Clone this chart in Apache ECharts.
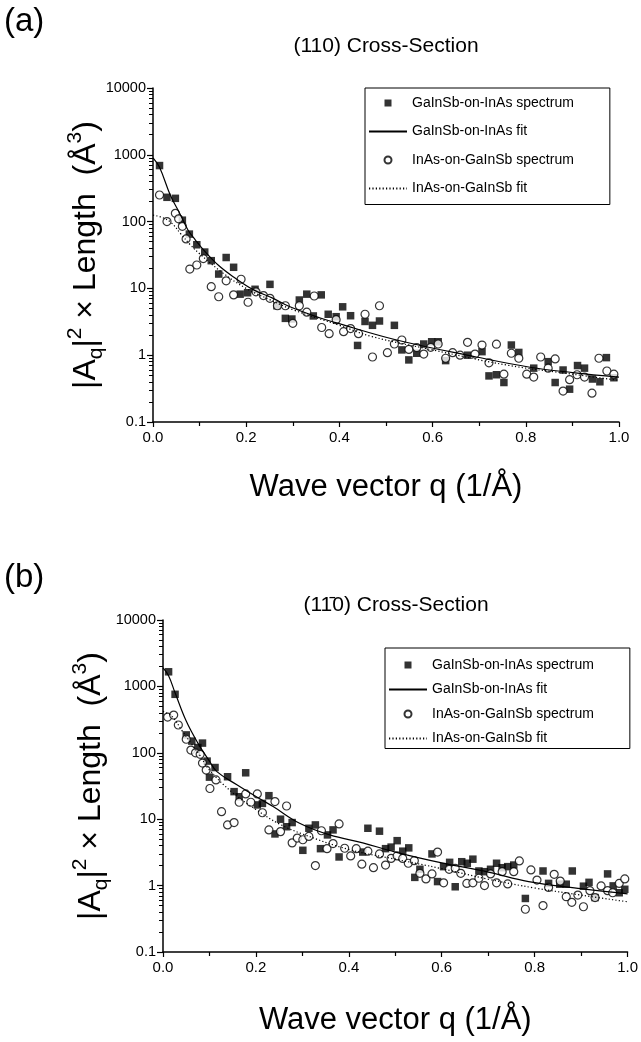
<!DOCTYPE html>
<html>
<head>
<meta charset="utf-8">
<script src="https://cdn.jsdelivr.net/npm/echarts@6/dist/echarts.min.js"></script>
<style>
html, body { margin: 0; padding: 0; background: #fff; }
#chart { width: 641px; height: 1042px; }
</style>
</head>
<body>
<div id="chart"></div>
<script>
// ---- data: [q (1/Å), |Aq|^2 x Length (Å^3)] ----
const sqA = [[.014,690],[.030,231],[.048,223],[.063,105],[.078,65],[.094,45],[.111,35],[.125,26],[.141,16.4],[.157,29],[.173,20.7],[.187,8.2],[.203,8.6],[.219,9.7],[.251,11.5],[.266,5.5],[.284,3.56],[.298,3.48],[.314,6.7],[.330,8.2],[.344,3.87],[.361,8.0],[.376,4.1],[.393,3.77],[.407,5.3],[.424,3.9],[.439,1.4],[.455,3.2],[.471,2.8],[.486,3.25],[.518,2.8],[.534,1.2],[.549,0.85],[.566,1.07],[.581,1.47],[.598,1.59],[.612,1.59],[.628,0.83],[.675,1.0],[.706,1.13],[.721,0.49],[.737,0.51],[.753,0.39],[.769,1.42],[.785,1.1],[.817,0.64],[.848,0.80],[.863,0.39],[.880,0.60],[.894,0.31],[.911,0.70],[.926,0.64],[.943,0.44],[.959,0.40],[.973,0.92],[.989,0.46]];
const ciA = [[.014,250],[.030,100],[.048,133],[.055,110],[.063,85],[.071,55],[.079,19.5],[.094,22.4],[.108,28],[.125,10.6],[.141,7.5],[.157,13],[.173,8],[.189,13.7],[.204,6.2],[.221,8.9],[.237,7.8],[.251,7.1],[.267,5.5],[.284,5.5],[.300,3.0],[.314,5.5],[.330,4.4],[.346,7.7],[.362,2.6],[.378,2.1],[.393,3.4],[.409,2.25],[.424,2.5],[.441,2.1],[.455,4.1],[.471,0.94],[.486,5.5],[.503,1.09],[.518,1.47],[.534,1.69],[.549,1.22],[.566,1.30],[.581,1.04],[.596,1.31],[.612,1.47],[.628,0.90],[.643,1.09],[.659,1.0],[.675,1.56],[.691,1.04],[.706,1.42],[.721,0.77],[.737,1.46],[.753,0.52],[.769,1.07],[.785,0.90],[.802,0.52],[.817,0.47],[.832,0.94],[.848,0.64],[.863,0.88],[.880,0.29],[.894,0.43],[.910,0.51],[.926,0.47],[.942,0.27],[.957,0.90],[.974,0.58],[.989,0.52]];
const fitSolidA = [[0,900],[.014,650],[.037,250],[.058,130],[.075,75],[.091,53],[.108,38],[.141,22],[.172,15],[.216,9.5],[.258,7.1],[.294,5.3],[.359,3.6],[.39,3.1],[.523,1.69],[.694,0.94],[.809,0.66],[.9,0.55],[1.0,0.47]];
const fitDotA = [[0,125],[.02,115],[.04,95],[.06,65],[.08,45],[.1,33],[.15,17],[.2,10],[.25,6.8],[.3,4.8],[.4,2.8],[.47,1.9],[.6,1.2],[.76,0.71],[.9,0.52],[1.0,0.42]];

const sqB = [[.012,1660],[.026,760],[.05,186],[.062,150],[.075,120],[.085,140],[.095,75],[.10,43],[.112,60],[.139,43.6],[.153,26],[.164,21.8],[.178,50],[.203,16.4],[.214,17.3],[.228,22.6],[.241,6.0],[.253,10],[.266,7.7],[.278,8.9],[.301,3.4],[.314,7.3],[.328,8.2],[.339,3.6],[.354,5.8],[.366,6.9],[.379,2.7],[.430,3.2],[.441,7.3],[.466,6.6],[.479,3.6],[.491,3.8],[.504,4.75],[.516,3.3],[.529,3.7],[.542,1.33],[.553,1.76],[.579,3.0],[.591,1.15],[.604,1.93],[.617,2.24],[.629,0.96],[.643,2.29],[.655,2.17],[.667,2.5],[.680,1.66],[.692,1.62],[.705,1.76],[.718,2.17],[.730,1.86],[.742,1.93],[.755,2.04],[.780,0.64],[.818,1.66],[.830,1.08],[.854,1.05],[.868,1.05],[.881,1.66],[.905,0.98],[.917,1.12],[.930,0.66],[.957,1.5],[.969,0.99],[.982,0.78],[.994,0.88]];
const ciB = [[.01,345],[.023,370],[.033,262],[.05,160],[.06,110],[.07,100],[.08,95],[.085,70],[.093,55],[.101,29],[.114,39],[.126,13],[.139,8.2],[.153,8.9],[.164,18],[.178,24],[.189,18],[.203,24],[.214,12.5],[.228,6.9],[.241,18.4],[.253,6.5],[.266,15.8],[.278,4.4],[.289,5.2],[.301,4.9],[.314,5.5],[.328,2.0],[.341,6.7],[.353,3.6],[.366,4.3],[.379,8.5],[.391,3.65],[.404,2.8],[.416,3.6],[.428,2.1],[.441,3.3],[.453,1.86],[.466,3.0],[.479,2.04],[.491,2.57],[.504,2.8],[.516,2.57],[.528,2.17],[.541,2.37],[.553,1.53],[.566,1.26],[.579,1.5],[.591,3.2],[.604,1.1],[.616,1.76],[.629,1.82],[.641,1.53],[.654,1.08],[.667,1.1],[.680,1.29],[.692,1.0],[.705,1.5],[.718,1.1],[.730,1.62],[.742,1.06],[.755,1.62],[.767,2.35],[.780,0.44],[.792,1.72],[.805,1.21],[.818,0.50],[.830,0.94],[.842,1.48],[.855,1.17],[.868,0.68],[.880,0.56],[.893,0.72],[.905,0.48],[.919,0.84],[.930,0.66],[.943,0.99],[.957,0.84],[.968,0.78],[.982,1.08],[.994,1.26]];
const fitSolidB = [[0,1900],[.012,1450],[.026,800],[.05,300],[.075,140],[.1,75],[.116,52],[.159,33],[.2,22],[.237,15.5],[.294,8.7],[.359,5.8],[.43,4.4],[.5,3.2],[.6,2.2],[.7,1.6],[.787,1.15],[.9,0.9],[1.0,0.75]];
const fitDotB = [[0,420],[.02,350],[.04,220],[.06,140],[.08,90],[.1,55],[.15,25],[.2,14],[.25,8.5],[.3,6],[.4,3.5],[.5,2.5],[.6,1.8],[.7,1.25],[.8,0.92],[.9,0.72],[1.0,0.57]];

const seriesNames = ['GaInSb-on-InAs spectrum', 'GaInSb-on-InAs fit', 'InAs-on-GaInSb spectrum', 'InAs-on-GaInSb fit'];
const decades = [0.1, 1, 10, 100, 1000, 10000];

const minorTicks = [];
decades.slice(0, -1).forEach(d => {
    for (let k = 2; k <= 9; k++) minorTicks.push(+(d * k).toPrecision(3));
});

const FONT = '"Liberation Sans", Arial, Helvetica, sans-serif';

const yName = '{a||A}{s|q}{a||}{p|2}{a| × Length  (Å}{p|3}{a|)}';
const yRich = {
    a: { fontSize: 32, lineHeight: 42, verticalAlign: 'middle', fontFamily: FONT, color: '#000' },
    s: { fontSize: 21, lineHeight: 21, verticalAlign: 'bottom', fontFamily: FONT, color: '#000' },
    p: { fontSize: 21, lineHeight: 21, verticalAlign: 'top', fontFamily: FONT, color: '#000' }
};

function xAxisFor(gi, gap) {
    return {
        type: 'value', gridIndex: gi, min: 0, max: 1, interval: 0.2,
        axisLine: { lineStyle: { color: '#000', width: 1.5 } },
        axisTick: { length: 5, lineStyle: { color: '#000', width: 1.2 } },
        minorTick: { show: true, splitNumber: 2, length: 4, lineStyle: { color: '#000', width: 1.2 } },
        splitLine: { show: false },
        axisLabel: { color: '#000', fontSize: 15, fontFamily: FONT, margin: 8,
            formatter: v => v.toFixed(1) },
        name: 'Wave vector q (1/Å)', nameLocation: 'middle', nameGap: gap, nameMoveOverlap: false,
        nameTextStyle: { color: '#000', fontSize: 31, fontFamily: FONT }
    };
}

function yAxesFor(gi, gap) {
    return [{
        type: 'log', logBase: 10, gridIndex: gi, min: 0.1, max: 10000, position: 'left',
        axisLine: { show: true, lineStyle: { color: '#000', width: 1.5 } },
        axisTick: { show: true, length: 6, lineStyle: { color: '#000', width: 1.2 } },
        splitLine: { show: false },
        axisLabel: { color: '#000', fontSize: 14.5, fontFamily: FONT, margin: 7,
            formatter: v => String(+(+v).toPrecision(6)) },
        name: yName, nameLocation: 'middle', nameGap: gap, nameRotate: 90, nameMoveOverlap: false,
        nameTextStyle: { rich: yRich }
    }, {
        type: 'log', logBase: 10, gridIndex: gi, min: 0.1, max: 10000, position: 'left', offset: 0,
        axisLine: { show: false },
        axisTick: { show: true, length: 4, customValues: minorTicks, lineStyle: { color: '#000', width: 1 } },
        axisLabel: { show: false },
        splitLine: { show: false }
    }];
}

function seriesFor(gi, sq, ci, fs, fd) {
    const ax = { xAxisIndex: gi, yAxisIndex: gi * 2 };
    return [
        Object.assign({ name: seriesNames[0], type: 'scatter', data: sq, symbol: 'rect', symbolSize: 7.5,
            itemStyle: { color: '#000' }, z: 2 }, ax),
        Object.assign({ name: seriesNames[2], type: 'scatter', data: ci, symbol: 'circle', symbolSize: 8,
            itemStyle: { color: '#fff', borderColor: '#000', borderWidth: 1.2 }, z: 3 }, ax),
        Object.assign({ name: seriesNames[1], type: 'line', data: fs, symbol: 'none', smooth: 0.4,
            lineStyle: { color: '#000', width: 1.2 }, itemStyle: { color: '#000' }, z: 4 }, ax),
        Object.assign({ name: seriesNames[3], type: 'line', data: fd, symbol: 'none', smooth: 0.4,
            lineStyle: { color: '#000', width: 1.2, type: [1.2, 2.2] }, itemStyle: { color: '#000' }, z: 4 }, ax)
    ];
}

const squareIcon = 'path://M0,0L10,0L10,10L0,10Z';
const circleIcon = 'path://M10,5A5,5,0,1,1,0,5A5,5,0,1,1,10,5Z';
const hidden = { opacity: 0 };

function legendFor(left, top, gap, padding) {
    return {
        orient: 'vertical', left: left, top: top, itemGap: gap, padding: padding,
        itemWidth: 38, itemHeight: 7, itemSpacing: 6,
        borderColor: '#000', borderWidth: 1, borderRadius: 0,
        textStyle: { color: '#000', fontSize: 14, fontFamily: FONT },
        selectedMode: false,
        data: [
            { name: seriesNames[0], icon: squareIcon },
            { name: seriesNames[1], itemStyle: hidden },
            { name: seriesNames[2], icon: circleIcon },
            { name: seriesNames[3], itemStyle: hidden }
        ]
    };
}

const chart = echarts.init(document.getElementById('chart'), null, { renderer: 'canvas' });

const option = {
    animation: false,
    backgroundColor: '#fff',
    grid: [
        { left: 153, right: 22, top: 88, height: 334 },
        { left: 163, right: 12, top: 620, height: 332 }
    ],
    xAxis: [xAxisFor(0, 50), xAxisFor(1, 53)],
    yAxis: yAxesFor(0, 46).concat(yAxesFor(1, 51)),
    legend: [
        legendFor(365, 88, 14.5, [8, 36, 9, 3]),
        legendFor(385, 648, 10.5, [10, 36, 3, 3])
    ],
    series: seriesFor(0, sqA, ciA, fitSolidA, fitDotA).concat(seriesFor(1, sqB, ciB, fitSolidB, fitDotB)),
    graphic: [
        { type: 'text', x: 4, y: 22, style: { text: '(a)', font: '33px ' + FONT, fill: '#000', textVerticalAlign: 'middle' } },
        { type: 'text', x: 386, y: 46, style: { text: '(110) Cross-Section', font: '21px ' + FONT, fill: '#000', textAlign: 'center', textVerticalAlign: 'middle' } },
        { type: 'text', x: 4, y: 578, style: { text: '(b)', font: '33px ' + FONT, fill: '#000', textVerticalAlign: 'middle' } },
        { type: 'text', x: 396, y: 605, style: { text: '(11\u03040) Cross-Section', font: '21px ' + FONT, fill: '#000', textAlign: 'center', textVerticalAlign: 'middle' } }
    ]
};

chart.setOption(option);
</script>
</body>
</html>
